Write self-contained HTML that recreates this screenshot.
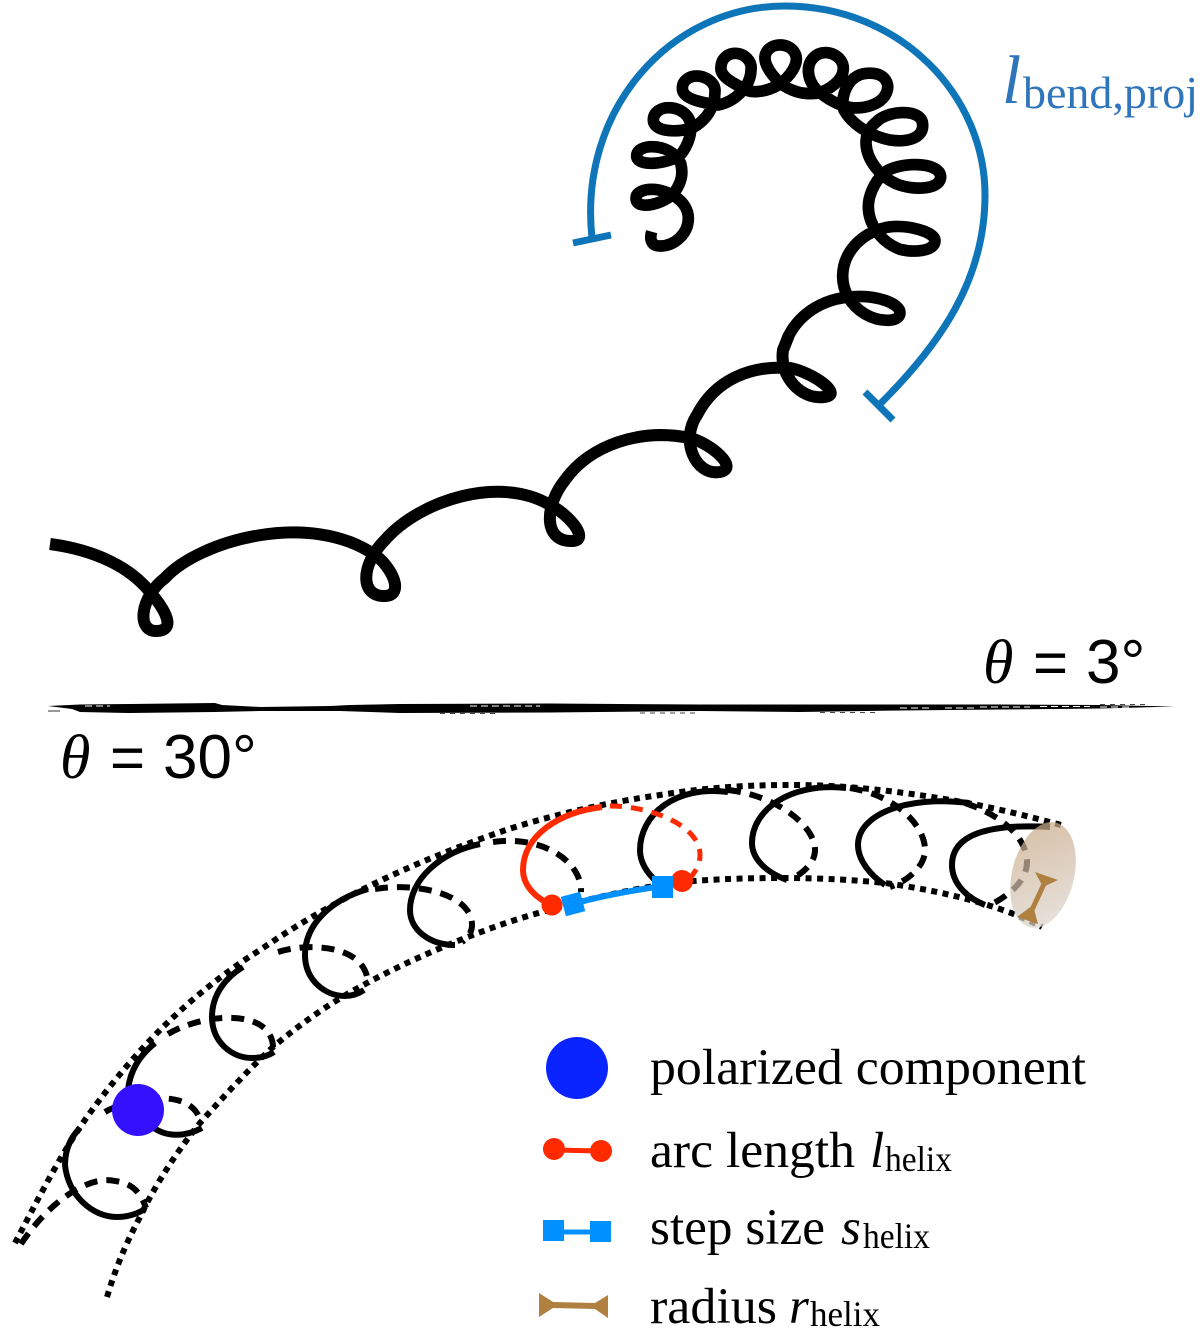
<!DOCTYPE html>
<html>
<head>
<meta charset="utf-8">
<style>
html,body{margin:0;padding:0;background:#fff;width:1200px;height:1329px;overflow:hidden}
svg{display:block}
text{font-family:"Liberation Serif",serif}
.s{font-family:"Liberation Sans",sans-serif}
.dot{fill:none;stroke:#000;stroke-width:6;stroke-dasharray:6 5.5}
.sol{fill:none;stroke:#000;stroke-width:6}
.dash{fill:none;stroke:#000;stroke-width:6;stroke-dasharray:13 9}
</style>
</head>
<body>
<svg width="1200" height="1329" viewBox="0 0 1200 1329" xmlns="http://www.w3.org/2000/svg">
<defs>
<linearGradient id="tan" x1="0.3" y1="0" x2="0.7" y2="1">
<stop offset="0" stop-color="#c9a987"/><stop offset="1" stop-color="#dcd6ce"/>
</linearGradient>
</defs>

<!-- blue bracket -->
<path d="M592,238 C578,110 670,6 785,6 C900,6 985,95 985,195 C985,280 940,345 878,406" fill="none" stroke="#0f75b9" stroke-width="7"/>
<line x1="573" y1="243" x2="611" y2="235" stroke="#0f75b9" stroke-width="7"/>
<line x1="865" y1="392" x2="893" y2="420" stroke="#0f75b9" stroke-width="7"/>
<text x="1002" y="103" font-size="69" font-style="italic" fill="#2f75bb">l</text>
<text x="1023" y="108" font-size="46" fill="#2f75bb" textLength="175" lengthAdjust="spacingAndGlyphs">bend,proj</text>

<!-- top helix lower part -->
<path d="M50,544 C95,550 130,567 150,592 C163,607 178,630 157,631 C136,632 140,597 165,578 C200,540 310,510 375,555 C392,567 405,595 385,596 C360,597 360,565 385,540 C420,500 500,475 550,505 C570,515 592,542 570,541 C543,540 545,505 565,480 C590,445 640,428 690,438 C710,443 740,468 720,472 C695,476 680,440 697,415 C715,380 750,365 790,368 C812,372 845,395 824,397 C800,400 779,375 783,350 L789,335" fill="none" stroke="#000" stroke-width="12"/>
<!-- top helix upper part -->
<g transform="translate(620 20) scale(0.33333)">
<path d="M500,960 C530,890 600,835 700,830 C770,825 840,850 840,878 C840,908 780,908 735,882 C690,855 668,810 668,770 C668,700 720,640 800,622 C860,612 945,635 945,662 C945,695 880,698 840,688 C780,665 745,610 745,560 C745,530 760,490 790,460 C830,425 960,422 962,470 C962,510 880,512 830,492 C780,470 740,420 738,370 C738,345 745,325 770,305 C800,272 908,262 908,315 C910,355 860,368 810,360 C760,350 700,320 672,270 C660,235 680,165 740,160 C795,155 805,190 803,205 C795,255 730,268 690,262 C650,255 620,235 590,210 C562,180 552,130 590,105 C625,85 670,110 670,145 C670,182 625,212 590,220 C540,225 510,210 480,190 C445,155 425,120 440,95 C460,65 510,70 525,100 C540,130 510,170 475,195 C440,215 400,220 380,210 C340,190 298,170 303,140 C305,110 330,100 345,100 C375,100 397,125 393,150 C392,200 345,245 295,255 C260,250 187,240 187,205 C187,180 210,168 230,168 C260,168 287,190 285,215 C285,260 260,300 220,322 C170,340 100,335 100,300 C100,275 125,263 145,263 C180,263 212,285 212,320 C214,350 200,380 185,400 C160,430 50,445 50,408 C50,388 75,380 95,380 C130,380 165,395 182,430 C190,460 185,485 165,515 C140,550 48,575 48,535 C48,515 75,508 95,508 C140,508 205,540 205,595 C205,640 165,678 120,678 C95,678 88,660 95,635" fill="none" stroke="#000" stroke-width="35"/>
</g>

<!-- theta labels -->
<text x="983" y="683" font-size="62" font-style="italic">θ</text>
<text class="s" x="1033" y="683" font-size="60">=</text>
<text class="s" x="1086" y="683" font-size="62">3°</text>
<text x="60" y="778" font-size="62" font-style="italic">θ</text>
<text class="s" x="110" y="778" font-size="60">=</text>
<text class="s" x="163" y="778" font-size="62">30°</text>

<!-- brush divider -->
<path d="M48,706 L80,704.5 L130,704 L215,703 L222,705 L260,707 L330,706 L350,705 L400,704 L550,703.5 L700,704.5 L800,704.5 L900,704.5 L1000,704.5 L1100,705 L1175,706.5 L1100,708.5 L1000,709.5 L900,710.5 L800,712 L700,711 L550,712.5 L400,713 L340,711 L260,711 L215,712 L130,713 L80,712 L72,709 Z" fill="#000"/>
<line x1="48" y1="711" x2="60" y2="711" stroke="#333" stroke-width="1"/>
<path d="M980,707 H1030 M1040,706.5 H1090 M1100,707 H1130 M900,708 H930 M945,708 H975 M470,706 H540 M85,706 H110" stroke="#fff" stroke-width="1" stroke-dasharray="7 4" fill="none"/>
<path d="M1100,704.5 H1150 M440,713.5 H500 M640,713 H700 M820,712.5 H880" stroke="#444" stroke-width="1" stroke-dasharray="5 5" fill="none"/>

<!-- tube dotted -->
<path class="dot" d="M15,1243 C35,1205 60,1155 87,1117 C110,1085 135,1055 160,1030 C190,1000 225,972 260,950 C340,895 420,860 500,832 C550,815 610,802 660,795 C710,787 750,785 792,785 C850,785 905,792 962,802 C1000,809 1035,818 1061,825"/>
<path class="dot" d="M107,1297 C115,1270 125,1245 140,1217 C155,1185 178,1150 200,1123 C225,1095 248,1070 273,1047 C305,1020 335,1000 367,983 C410,960 455,941 500,925 C550,908 620,890 681,882 C715,879 750,878 785,878 C820,878 855,880 885,883 C920,888 950,894 981,903 C1005,910 1025,918 1042,927"/>

<!-- black coils solid -->
<path class="sol" d="M1050,827 C1000,824 952,830 952,865 C952,882 965,897 985,905"/>
<path class="sol" d="M969,803 C905,795 858,815 858,845 C858,860 870,875 885,885"/>
<path class="sol" d="M846,788 C790,782 752,810 752,843 C752,858 765,872 787,880"/>
<path class="sol" d="M728,792 C675,785 640,815 640,850 C640,862 647,873 657,882"/>
<path class="sol" d="M480,844 C440,852 410,880 410,910 C410,930 430,945 455,945"/>
<path class="sol" d="M368,889 C330,900 305,925 305,955 C305,980 325,996 345,996 C352,996 358,994 364,990"/>
<path class="sol" d="M243,967 C225,978 212,995 212,1017 C212,1042 232,1058 252,1058 C260,1058 268,1056 274,1052"/>
<path class="sol" d="M155,1043 C140,1055 130,1070 128,1090"/>
<path class="sol" d="M150,1125 C165,1138 185,1137 202,1128"/>
<path class="sol" d="M80,1128 C70,1138 65,1150 65,1165 C68,1195 92,1217 117,1217 C127,1217 137,1214 145,1209"/>

<!-- black coils dashed -->
<path class="dash" d="M965,803 C1000,815 1025,835 1027,860 C1028,880 1010,895 990,905"/>
<path class="dash" d="M850,788 C895,795 925,825 925,850 C925,865 910,880 890,887"/>
<path class="dash" d="M728,790 C775,795 815,825 815,850 C815,862 805,872 790,880"/>
<path class="dash" d="M493,842 C540,835 582,860 581,892"/>
<path class="dash" d="M375,889 C420,882 472,895 472,925 C472,932 468,938 462,942"/>
<path class="dash" d="M278,952 C310,942 368,945 368,985"/>
<path class="dash" d="M168,1034 C205,1012 275,1008 273,1050"/>
<path class="dash" d="M105,1112 C125,1100 190,1085 200,1120"/>
<path class="dash" d="M21,1244 C50,1200 90,1175 115,1181 C130,1183 140,1190 146,1208"/>

<!-- red coil -->
<path d="M602,807 C560,812 523,835 523,870 C523,885 535,898 552,905" fill="none" stroke="#ff2a00" stroke-width="6"/>
<path d="M610,806 C650,806 700,825 700,855 C700,865 695,872 690,878" fill="none" stroke="#ff2a00" stroke-width="5" stroke-dasharray="12 9"/>
<path d="M573,904 C600,896 635,890 663,886" fill="none" stroke="#0090ff" stroke-width="6"/>
<circle cx="552" cy="905" r="10.5" fill="#ff2a00"/>
<circle cx="682" cy="881" r="11" fill="#ff2a00"/>
<rect x="563" y="894" width="20" height="20" fill="#0090ff" transform="rotate(-15 573 904)"/>
<rect x="652" y="876" width="21" height="22" fill="#0090ff"/>

<!-- end cap ellipse -->
<ellipse cx="1043" cy="875" rx="31" ry="54" fill="url(#tan)" opacity="0.72" transform="rotate(14 1043 875)"/>
<line x1="1044" y1="884" x2="1031" y2="912" stroke="#b08040" stroke-width="5"/>
<polygon points="1035,872 1058,880 1043,887" fill="#b08040"/>
<polygon points="1017,917 1033,905 1038,924" fill="#b08040"/>

<!-- polarized dot -->
<circle cx="138" cy="1110" r="26" fill="#3311ff"/>

<!-- legend -->
<ellipse cx="577" cy="1068" rx="31" ry="31" fill="#0a24ff"/>
<text x="650" y="1084" font-size="51" textLength="436" lengthAdjust="spacingAndGlyphs">polarized component</text>

<line x1="554" y1="1150" x2="601" y2="1151" stroke="#ff2a00" stroke-width="5"/>
<circle cx="554" cy="1149" r="11" fill="#ff2a00"/>
<circle cx="601" cy="1151" r="11" fill="#ff2a00"/>
<text x="650" y="1167" font-size="51" textLength="205" lengthAdjust="spacingAndGlyphs">arc length</text>
<text x="870" y="1167" font-size="51" font-style="italic">l</text>
<text x="885" y="1171" font-size="36" textLength="67" lengthAdjust="spacingAndGlyphs">helix</text>

<rect x="543" y="1220" width="21" height="21" fill="#0090ff"/>
<rect x="590" y="1221" width="21" height="21" fill="#0090ff"/>
<line x1="560" y1="1232" x2="595" y2="1232" stroke="#0090ff" stroke-width="5"/>
<text x="650" y="1244" font-size="51" textLength="175" lengthAdjust="spacingAndGlyphs">step size</text>
<text x="841" y="1244" font-size="51" font-style="italic">s</text>
<text x="863" y="1248" font-size="36" textLength="67" lengthAdjust="spacingAndGlyphs">helix</text>

<polygon points="539,1293 553,1302 595,1303 608,1295 608,1318 595,1309 553,1308 539,1317" fill="#b08040"/>
<text x="650" y="1323" font-size="51" textLength="127" lengthAdjust="spacingAndGlyphs">radius</text>
<text x="789" y="1323" font-size="51" font-style="italic">r</text>
<text x="810" y="1326" font-size="36" textLength="70" lengthAdjust="spacingAndGlyphs">helix</text>
</svg>
</body>
</html>
